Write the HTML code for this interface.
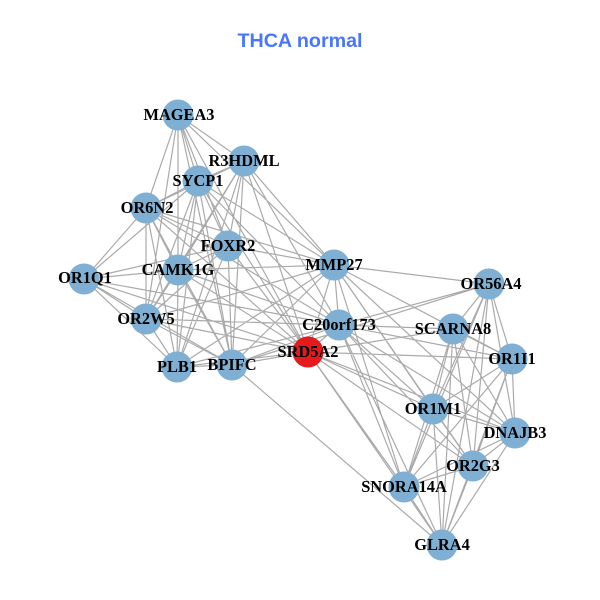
<!DOCTYPE html>
<html><head><meta charset="utf-8"><style>
html,body{margin:0;padding:0;background:#fff}
svg{display:block}
.l{font:bold 16.4px "Liberation Serif",serif;fill:#000;text-anchor:middle}
</style></head><body>
<svg width="600" height="600" viewBox="0 0 600 600" xmlns="http://www.w3.org/2000/svg">
<rect width="600" height="600" fill="#fff"/>
<text x="300" y="47" text-anchor="middle" style="font:bold 19.7px 'Liberation Sans',sans-serif" fill="#4876FF">THCA normal</text>
<path fill="none" stroke="#aaa" stroke-width="1.2" d="
M178 115L146 208M178 115L178 270M178 115L198 181M178 115L228 246M178 115L146 319M178 115L232 365M178 115L244 161M178 115L334 265M178 115L308 352
M244 161L198 181M244 161L146 208M244 161L228 246M244 161L178 270M244 161L146 319M244 161L177 367M244 161L232 365M244 161L334 265M244 161L308 352M244 161L339 325
M198 181L146 208M198 181L228 246M198 181L178 270M198 181L84 279M198 181L146 319M198 181L177 367M198 181L232 365M198 181L334 265M198 181L308 352M198 181L339 325
M146 208L228 246M146 208L178 270M146 208L84 279M146 208L146 319M146 208L177 367M146 208L232 365M146 208L334 265M146 208L308 352M146 208L339 325
M228 246L178 270M228 246L146 319M228 246L177 367M228 246L232 365M228 246L334 265M228 246L308 352M228 246L84 279
M178 270L84 279M178 270L146 319M178 270L177 367M178 270L232 365M178 270L334 265M178 270L308 352M178 270L339 325
M84 279L146 319M84 279L177 367M84 279L232 365M84 279L308 352M84 279L339 325
M146 319L177 367M146 319L232 365M146 319L334 265M146 319L339 325M146 319L308 352
M177 367L232 365M177 367L334 265M177 367L339 325M177 367L308 352
M232 365L334 265M232 365L339 325M232 365L308 352M232 365L442 545M232 365L489 284
M334 265L339 325M334 265L308 352M334 265L489 284M334 265L512 359M334 265L433 409M334 265L515 433M334 265L473 466M334 265L404 487
M339 325L308 352M339 325L453 329M339 325L489 284M339 325L512 359M339 325L433 409M339 325L473 466M339 325L404 487M339 325L515 433M339 325L442 545
M308 352L453 329M308 352L512 359M308 352L433 409M308 352L515 433M308 352L473 466M308 352L404 487M308 352L442 545
M453 329L489 284M453 329L512 359M453 329L433 409M453 329L515 433M453 329L473 466M453 329L404 487M453 329L442 545
M489 284L512 359M489 284L433 409M489 284L515 433M489 284L473 466M489 284L404 487M489 284L442 545
M512 359L433 409M512 359L515 433M512 359L473 466M512 359L404 487M512 359L442 545
M433 409L515 433M433 409L473 466M433 409L404 487M433 409L442 545
M515 433L473 466M515 433L404 487M515 433L442 545
M473 466L404 487M473 466L442 545M404 487L442 545"/>
<g fill="#7FB0D3">
<circle cx="178" cy="115" r="15.5"/><circle cx="244" cy="161" r="15.5"/><circle cx="198" cy="181" r="15.5"/><circle cx="146" cy="208" r="15.5"/><circle cx="228" cy="246" r="15.5"/><circle cx="178" cy="270" r="15.5"/><circle cx="84" cy="279" r="15.5"/><circle cx="146" cy="319" r="15.5"/><circle cx="334" cy="265" r="15.5"/><circle cx="177" cy="367" r="15.5"/><circle cx="232" cy="365" r="15.5"/><circle cx="339" cy="325" r="15.5"/><circle cx="453" cy="329" r="15.5"/><circle cx="489" cy="284" r="15.5"/><circle cx="512" cy="359" r="15.5"/><circle cx="433" cy="409" r="15.5"/><circle cx="515" cy="433" r="15.5"/><circle cx="473" cy="466" r="15.5"/><circle cx="404" cy="487" r="15.5"/><circle cx="442" cy="545" r="15.5"/>
</g>
<circle cx="308" cy="352" r="15.5" fill="#E41A1C"/>
<g class="l">
<text class="l" x="179" y="120">MAGEA3</text>
<text class="l" x="244" y="166">R3HDML</text>
<text class="l" x="198" y="186">SYCP1</text>
<text class="l" x="147" y="213">OR6N2</text>
<text class="l" x="228" y="251">FOXR2</text>
<text class="l" x="178" y="275">CAMK1G</text>
<text class="l" x="85" y="283">OR1Q1</text>
<text class="l" x="146" y="324">OR2W5</text>
<text class="l" x="334" y="270">MMP27</text>
<text class="l" x="177" y="372">PLB1</text>
<text class="l" x="232" y="370">BPIFC</text>
<text class="l" x="339" y="330">C20orf173</text>
<text class="l" x="308" y="357">SRD5A2</text>
<text class="l" x="453" y="334">SCARNA8</text>
<text class="l" x="491" y="289">OR56A4</text>
<text class="l" x="512" y="364">OR1I1</text>
<text class="l" x="433" y="414">OR1M1</text>
<text class="l" x="515" y="438">DNAJB3</text>
<text class="l" x="473" y="471">OR2G3</text>
<text class="l" x="404" y="492">SNORA14A</text>
<text class="l" x="442" y="550">GLRA4</text>
</g>
</svg>
</body></html>
